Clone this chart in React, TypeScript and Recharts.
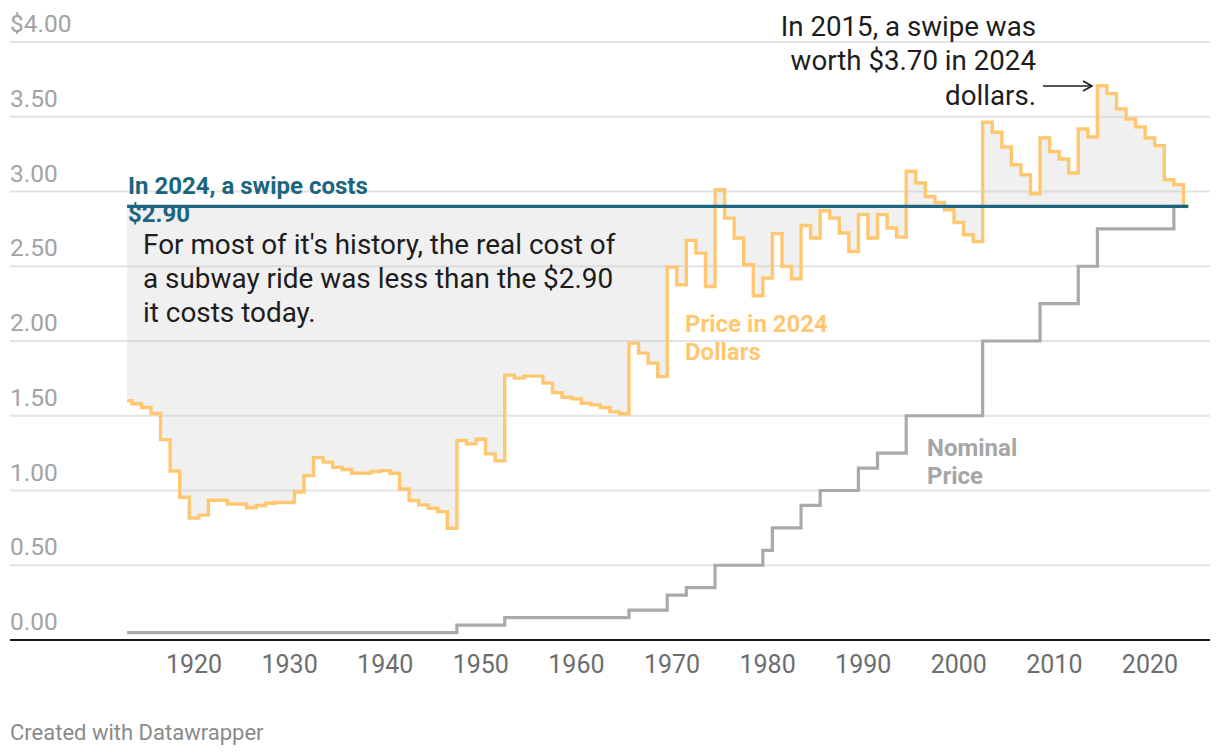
import { ComposedChart, Area, Line, XAxis, YAxis, CartesianGrid } from "recharts";

// Subway fare, one value per year from 1913 to 2024
const firstYear = 1913;

// fare in 2024 dollars
const realPrice = [
  1.6, 1.58, 1.555, 1.515, 1.34, 1.13, 0.955,
  0.815, 0.835, 0.935, 0.935, 0.91, 0.91, 0.885, 0.9, 0.915, 0.92,
  0.92, 0.99, 1.1, 1.22, 1.19, 1.155, 1.14, 1.115, 1.115, 1.127,
  1.133, 1.115, 1.01, 0.933, 0.904, 0.881, 0.859, 0.747, 1.334, 1.312,
  1.343, 1.245, 1.198, 1.772, 1.752, 1.765, 1.765, 1.718, 1.655, 1.624,
  1.613, 1.584, 1.573, 1.555, 1.526, 1.513, 1.986, 1.919, 1.852, 1.762,
  2.494, 2.376, 2.673, 2.588, 2.365, 3.012, 2.822, 2.689, 2.51, 2.303,
  2.421, 2.718, 2.499, 2.416, 2.773, 2.689, 2.871, 2.822, 2.722, 2.599,
  2.845, 2.689, 2.845, 2.756, 2.695, 3.135, 3.057, 2.967, 2.927, 2.878,
  2.793, 2.711, 2.666, 3.463, 3.396, 3.298, 3.179, 3.112, 2.985, 3.358,
  3.268, 3.217, 3.124, 3.418, 3.365, 3.708, 3.655, 3.552, 3.485, 3.432,
  3.358, 3.307, 3.079, 3.046, 2.9,
];

// fare as charged at the time
const nominalPrice = [
  0.05, 0.05, 0.05, 0.05, 0.05, 0.05, 0.05,
  0.05, 0.05, 0.05, 0.05, 0.05, 0.05, 0.05, 0.05, 0.05, 0.05,
  0.05, 0.05, 0.05, 0.05, 0.05, 0.05, 0.05, 0.05, 0.05, 0.05,
  0.05, 0.05, 0.05, 0.05, 0.05, 0.05, 0.05, 0.05, 0.1, 0.1,
  0.1, 0.1, 0.1, 0.15, 0.15, 0.15, 0.15, 0.15, 0.15, 0.15,
  0.15, 0.15, 0.15, 0.15, 0.15, 0.15, 0.2, 0.2, 0.2, 0.2,
  0.3, 0.3, 0.35, 0.35, 0.35, 0.5, 0.5, 0.5, 0.5, 0.5,
  0.6, 0.75, 0.75, 0.75, 0.9, 0.9, 1.0, 1.0, 1.0, 1.0,
  1.15, 1.15, 1.25, 1.25, 1.25, 1.5, 1.5, 1.5, 1.5, 1.5,
  1.5, 1.5, 1.5, 2.0, 2.0, 2.0, 2.0, 2.0, 2.0, 2.25,
  2.25, 2.25, 2.25, 2.5, 2.5, 2.75, 2.75, 2.75, 2.75, 2.75,
  2.75, 2.75, 2.75, 2.9, 2.9,
];

const todayFare = 2.9;

const yearTicks = [1920, 1930, 1940, 1950, 1960, 1970, 1980, 1990, 2000, 2010, 2020];
const priceTicks = [0, 0.5, 1, 1.5, 2, 2.5, 3, 3.5, 4];

const chartData = realPrice.map((real, i) => ({
  year: firstYear + i,
  real,
  nominal: nominalPrice[i],
  today: todayFare,
  gap: [real, todayFare],
}));

const FONT = "Roboto, 'Noto Sans', sans-serif";

const PriceTick = (props: any) => {
  const { y, payload } = props;
  const label = payload.value === 4 ? "$4.00" : payload.value.toFixed(2);
  return (
    <text x={10} y={y - 10} textAnchor="start" fill="#a3a3a3" fontSize={24.5} fontFamily={FONT}>
      {label}
    </text>
  );
};

const YearTick = (props: any) => {
  const { x, y, payload } = props;
  return (
    <text x={x} y={y + 25} textAnchor="middle" fill="#6d6d6d" fontSize={25} fontFamily={FONT}>
      {payload.value}
    </text>
  );
};

const App = () => {
  return (
    <div style={{ position: "absolute", left: 0, top: 0, width: 1220, height: 756, background: "#fff", fontFamily: FONT }}>
      <ComposedChart
        width={1220}
        height={756}
        data={chartData}
        margin={{ top: 42, right: 10, bottom: 0, left: 0 }}
      >
        <CartesianGrid vertical={false} stroke="#e3e3e3" strokeWidth={2} />
        <XAxis
          dataKey="year"
          type="number"
          domain={[1900.75, 2026.28]}
          ticks={yearTicks}
          tick={<YearTick />}
          tickLine={false}
          axisLine={{ stroke: "#1a1a1a", strokeWidth: 2 }}
          height={116}
          allowDataOverflow
        />
        <YAxis
          type="number"
          domain={[0, 4]}
          ticks={priceTicks}
          tick={<PriceTick />}
          tickLine={false}
          axisLine={false}
          width={10}
        />
        <Area
          type="step"
          dataKey="gap"
          stroke="none"
          fill="#c8c8c8"
          fillOpacity={0.28}
          isAnimationActive={false}
        />
        <Line
          type="step"
          dataKey="real"
          stroke="#ffc870"
          strokeWidth={3.4}
          dot={false}
          isAnimationActive={false}
        />
        <Line
          type="step"
          dataKey="nominal"
          stroke="#aaaaaa"
          strokeWidth={3.2}
          dot={false}
          isAnimationActive={false}
        />
        <Line
          type="linear"
          dataKey="today"
          stroke="#1b6580"
          strokeWidth={3.2}
          dot={false}
          isAnimationActive={false}
        />
      </ComposedChart>

      <div style={{ position: "absolute", left: 128, top: 172, color: "#1b6580", fontWeight: 700, fontSize: 24, lineHeight: "28px" }}>
        In 2024, a swipe costs
        <br />
        $2.90
      </div>

      <div style={{ position: "absolute", left: 143, top: 228.3, color: "#1d1d1d", fontSize: 27.9, lineHeight: "34px", whiteSpace: "nowrap" }}>
        For most of it's history, the real cost of
        <br />
        a subway ride was less than the $2.90
        <br />
        it costs today.
      </div>

      <div style={{ position: "absolute", left: 685, top: 309.5, color: "#ffc870", fontWeight: 700, fontSize: 24, lineHeight: "28px" }}>
        Price in 2024
        <br />
        Dollars
      </div>

      <div style={{ position: "absolute", left: 927, top: 434, color: "#a6a6a6", fontWeight: 700, fontSize: 24, lineHeight: "28px" }}>
        Nominal
        <br />
        Price
      </div>

      <div style={{ position: "absolute", right: 1220 - 1036, top: 10.2, color: "#1d1d1d", fontSize: 27.7, lineHeight: "34.2px", textAlign: "right", whiteSpace: "nowrap" }}>
        In 2015, a swipe was
        <br />
        worth $3.70 in 2024
        <br />
        dollars.
      </div>

      <svg style={{ position: "absolute", left: 1040, top: 78 }} width={60} height={16}>
        <line x1={3} y1={8} x2={52} y2={8} stroke="#1d1d1d" strokeWidth={1.6} />
        <polyline points="43,3 52,8 43,13" fill="none" stroke="#1d1d1d" strokeWidth={1.6} />
      </svg>

      <div style={{ position: "absolute", left: 10, top: 719.5, color: "#8a8a8a", fontSize: 22, lineHeight: "26px" }}>
        Created with Datawrapper
      </div>
    </div>
  );
};

export default App;
